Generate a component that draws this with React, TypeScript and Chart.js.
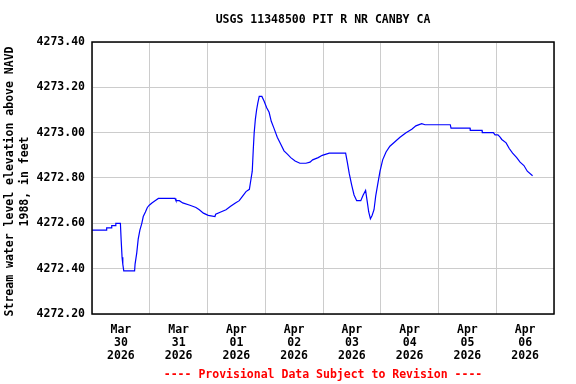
import React, { useEffect, useRef } from "react";
import { Chart, registerables } from "chart.js";

Chart.register(...registerables);

// Hours since 2026-03-30 00:00
const hours = [
  0.0, 6.0, 6.1, 8.1, 8.2, 9.8, 9.9, 11.8, 12.1, 12.5, 12.8, 13.2, 15.0, 17.7, 17.9, 18.6, 19.2, 19.9,
  20.7, 21.3, 22.2, 23.0, 23.8, 24.9, 26.2, 27.6, 34.5, 34.9, 36.3, 37.7, 40.7, 43.2, 44.6, 46.3,
  48.3, 51.1, 51.4, 53.5, 55.7, 57.6, 59.6, 61.2, 62.6, 64.0, 65.4, 66.0, 66.6, 67.0, 67.4, 67.9,
  68.4, 68.9, 69.5, 70.6, 71.5, 72.6, 73.6, 74.5, 75.6, 77.0, 78.4, 79.8, 81.2, 82.6, 84.4, 86.4,
  88.9, 90.6, 91.7, 94.0, 95.7, 98.6, 105.4, 106.1, 106.9, 107.9, 108.9, 110.0, 111.7, 112.7,
  113.7, 114.4, 115.0, 115.7, 116.4, 117.2, 117.9, 118.7, 119.7, 120.8, 122.2, 123.8, 125.9,
  128.0, 130.5, 132.9, 134.6, 137.0, 138.4, 148.9, 149.2, 157.1, 157.2, 162.1, 162.2, 166.8,
  167.5, 168.7, 169.6, 170.3, 172.1, 173.4, 174.8, 176.5, 177.9, 179.5, 180.9, 183.1,
];

const levels = [
  4272.57, 4272.57, 4272.58, 4272.58, 4272.59, 4272.59, 4272.6, 4272.6, 4272.53, 4272.45, 4272.42,
  4272.39, 4272.39, 4272.39, 4272.42, 4272.47, 4272.53, 4272.57, 4272.6, 4272.63, 4272.65, 4272.67,
  4272.68, 4272.69, 4272.7, 4272.71, 4272.71, 4272.7, 4272.7, 4272.69, 4272.68, 4272.67, 4272.66,
  4272.645, 4272.635, 4272.63, 4272.64, 4272.65, 4272.66, 4272.675, 4272.69, 4272.7, 4272.72,
  4272.74, 4272.75, 4272.79, 4272.83, 4272.92, 4273.0, 4273.06, 4273.1, 4273.13, 4273.16, 4273.16,
  4273.14, 4273.11, 4273.09, 4273.05, 4273.02, 4272.98, 4272.95, 4272.92, 4272.905, 4272.89,
  4272.875, 4272.865, 4272.865, 4272.87, 4272.88, 4272.89, 4272.9, 4272.91, 4272.91, 4272.87,
  4272.82, 4272.77, 4272.725, 4272.7, 4272.7, 4272.725, 4272.745, 4272.695, 4272.65, 4272.62,
  4272.635, 4272.66, 4272.72, 4272.77, 4272.83, 4272.88, 4272.915, 4272.94, 4272.96, 4272.98,
  4273.0, 4273.015, 4273.03, 4273.04, 4273.035, 4273.035, 4273.02, 4273.02, 4273.01, 4273.01,
  4273.0, 4273.0, 4272.99, 4272.99, 4272.98, 4272.97, 4272.955, 4272.93, 4272.91, 4272.89,
  4272.87, 4272.855, 4272.83, 4272.81,
];

const dateLabels = [
  ["Mar", "30", "2026"],
  ["Mar", "31", "2026"],
  ["Apr", "01", "2026"],
  ["Apr", "02", "2026"],
  ["Apr", "03", "2026"],
  ["Apr", "04", "2026"],
  ["Apr", "05", "2026"],
  ["Apr", "06", "2026"],
];

const yTickValues = [4272.2, 4272.4, 4272.6, 4272.8, 4273.0, 4273.2, 4273.4];

const chartTitle = "USGS 11348500 PIT R NR CANBY CA";
const footerText = "---- Provisional Data Subject to Revision ----";
const yAxisTitle = ["Stream water level elevation above NAVD ", "1988, in feet "];

const FONT = "'DejaVu Sans Mono', monospace";

export default function App() {
  const ref = useRef<HTMLCanvasElement | null>(null);

  useEffect(() => {
    if (!ref.current) return;
    const xTicks: number[] = [];
    for (let h = 0; h <= dateLabels.length * 24; h += 12) xTicks.push(h);

    const textPlugin = {
      id: "textPlugin",
      afterDraw(chart: any) {
        const { ctx, chartArea } = chart;
        ctx.save();
        ctx.strokeStyle = "#000000";
        ctx.lineWidth = 1.5;
        ctx.strokeRect(chartArea.left, chartArea.top, chartArea.right - chartArea.left, chartArea.bottom - chartArea.top);
        const cx = (chartArea.left + chartArea.right) / 2;
        ctx.font = `bold 11.5px ${FONT}`;
        ctx.textAlign = "center";
        ctx.textBaseline = "middle";
        ctx.fillStyle = "#000000";
        ctx.fillText(chartTitle, cx, 20);
        ctx.fillStyle = "#ff0000";
        ctx.fillText(footerText, cx, 375);
        ctx.restore();
      },
    };

    const chart = new Chart(ref.current, {
      type: "line",
      data: {
        datasets: [
          {
            data: hours.map((h, i) => ({ x: h, y: levels[i] })),
            borderColor: "#0000ff",
            borderWidth: 1.2,
            pointRadius: 0,
            tension: 0,
            fill: false,
          },
        ],
      },
      options: {
        animation: false,
        responsive: false,
        events: [],
        layout: { padding: { top: 42, right: 22, left: 0, bottom: 0 } },
        plugins: {
          legend: { display: false },
          tooltip: { enabled: false },
          title: { display: false },
        },
        scales: {
          x: {
            type: "linear",
            min: 0,
            max: dateLabels.length * 24,
            afterBuildTicks: (axis: any) => {
              axis.ticks = xTicks.map((v) => ({ value: v }));
            },
            afterFit: (axis: any) => {
              axis.height = 70;
            },
            border: { display: false },
            grid: {
              drawTicks: false,
              color: (ctx: any) =>
                ctx.tick && Math.round(ctx.tick.value) % 24 === 0 ? "#cccccc" : "rgba(0,0,0,0)",
              lineWidth: 1,
            },
            ticks: {
              autoSkip: false,
              maxRotation: 0,
              padding: 10,
              color: "#000000",
              font: { family: FONT, size: 11.5, weight: "bold", lineHeight: 1.1 },
              callback: (v: any) => {
                const n = Math.round(Number(v));
                if (n % 24 === 12) return dateLabels[(n - 12) / 24];
                return "";
              },
            },
          },
          y: {
            type: "linear",
            min: 4272.2,
            max: 4273.4,
            afterBuildTicks: (axis: any) => {
              axis.ticks = yTickValues.map((v) => ({ value: v }));
            },
            afterFit: (axis: any) => {
              axis.width = 92;
            },
            border: { display: false },
            grid: { drawTicks: false, color: "#cccccc", lineWidth: 1 },
            ticks: {
              padding: 7,
              color: "#000000",
              font: { family: FONT, size: 11.5, weight: "bold" },
              callback: (v: any) => Number(v).toFixed(2),
            },
            title: {
              display: true,
              text: yAxisTitle,
              color: "#000000",
              padding: { top: 3, bottom: 0 },
              font: { family: FONT, size: 11.5, weight: "bold", lineHeight: 1.3 },
            },
          },
        },
      },
      plugins: [textPlugin],
    } as any);

    return () => chart.destroy();
  }, []);

  return (
    <div style={{ position: "absolute", left: 0, top: 0, width: 576, height: 384, background: "#ffffff" }}>
      <canvas ref={ref} width={576} height={384} style={{ display: "block" }} />
    </div>
  );
}
